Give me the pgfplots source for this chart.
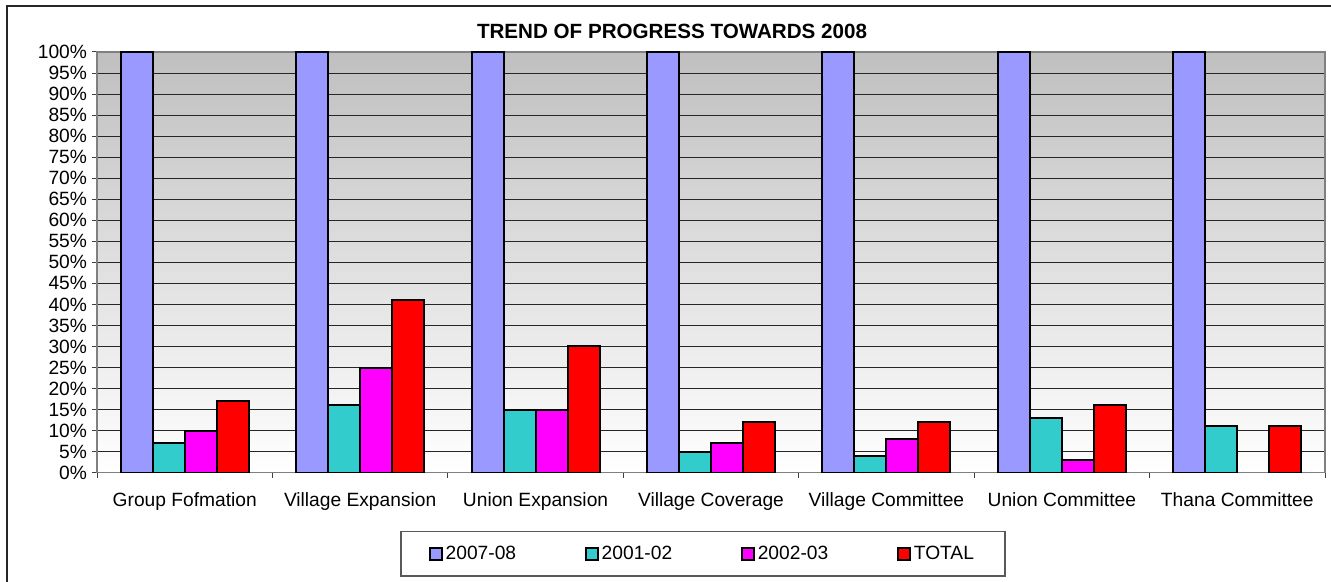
\documentclass[border=0pt]{standalone}
\usepackage{pgfplots}
\pgfplotsset{compat=1.18}
\usepackage{fontspec}
\setmainfont{Liberation Sans}
\definecolor{cA}{RGB}{153,153,255}
\definecolor{cB}{RGB}{51,204,204}
\definecolor{cC}{RGB}{255,0,255}
\definecolor{cD}{RGB}{255,0,0}
\begin{document}
\begin{tikzpicture}
\useasboundingbox (0,0) rectangle (665.5pt,291pt);
\fill[white] (0,0) rectangle (665.5pt,291pt);
\draw[black!85, line width=0.9pt] (3.5pt,0) -- (3.5pt,288pt) -- (665.5pt,288pt);
\node[font=\fontsize{10.3}{12}\selectfont\bfseries] at (336pt,275.5pt) {TREND OF PROGRESS TOWARDS 2008};
\begin{axis}[
  at={(48.5pt,54.65pt)}, anchor=south west,
  scale only axis, width=614pt, height=210.35pt,
  font=\fontsize{9.6}{11}\selectfont,
  /pgf/number format/assume math mode=true,
  xmin=-0.5, xmax=6.5, ymin=0, ymax=100,
  xtick={-0.5,0.5,...,6.5},
  x tick label as interval=true,
  xticklabels={Group Fofmation,Village Expansion,Union Expansion,Village Coverage,Village Committee,Union Committee,Thana Committee},
  x tick label style={yshift=-4pt},
  ytick={0,5,...,100},
  yticklabel={\pgfmathprintnumber{\tick}\%},
  y tick label style={xshift=1pt},
  tick align=outside, major tick length=2.5pt,
  xtick pos=bottom, ytick pos=left,
  tick style={black!75, line width=0.5pt},
  ymajorgrids, major grid style={black!85, line width=0.5pt},
  axis line style={gray, line width=0.8pt},
  axis background/.style={top color=black!25, bottom color=white},
  ybar=0pt, bar width=0.1824,
  every axis plot/.append style={draw=black, line width=1pt},
  legend columns=4,
  legend style={at={(0.4935,-0.193)}, anchor=center, draw=black!65, line width=0.6pt,
    font=\fontsize{9.6}{11}\selectfont, inner xsep=14pt, inner ysep=5pt,
    nodes={inner xsep=1.5pt},
    /tikz/every even column/.append style={column sep=33pt}},
  legend image code/.code={\draw[#1, line width=0.8pt] (0pt,-3pt) rectangle (6pt,3pt);},
]
\addplot[fill=cA, bar shift=-0.2736] coordinates {(0,100) (1,100) (2,100) (3,100) (4,100) (5,100) (6,100)};
\addplot[fill=cB, bar shift=-0.0912] coordinates {(0,7) (1,16) (2,15) (3,5) (4,4) (5,13) (6,11)};
\addplot[fill=cC, bar shift=0.0912] coordinates {(0,10) (1,25) (2,15) (3,7) (4,8) (5,3)};
\addplot[fill=cD, bar shift=0.2736] coordinates {(0,17) (1,41) (2,30) (3,12) (4,12) (5,16) (6,11)};
\legend{2007-08,2001-02,2002-03,TOTAL}
\end{axis}
\end{tikzpicture}
\end{document}
